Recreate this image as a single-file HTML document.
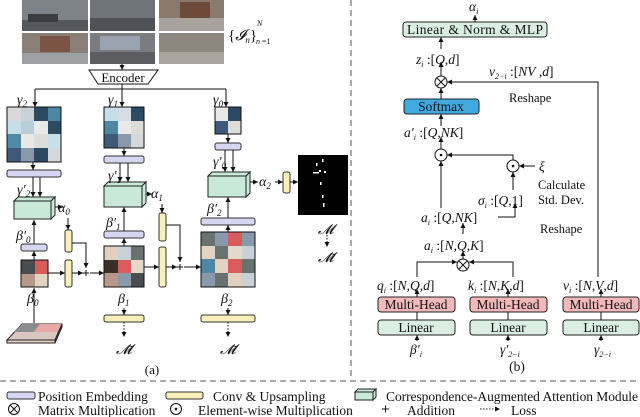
<!DOCTYPE html>
<html><head><meta charset="utf-8"><style>
html,body{margin:0;padding:0;background:#fff}
svg{display:block}
text{font-family:"Liberation Serif",serif;fill:#111}
.i{font-style:italic}
</style></head><body>
<svg width="640" height="417" viewBox="0 0 640 417" xmlns="http://www.w3.org/2000/svg">
<defs>
<marker id="a" markerWidth="6" markerHeight="6" refX="5" refY="3" orient="auto" markerUnits="userSpaceOnUse"><path d="M0,0.5 L5,3 L0,5.5z" fill="#111"/></marker>
</defs>
<g stroke="#111" stroke-width="1" fill="none">
<g stroke="none">
<rect x="22" y="0" width="66" height="31" fill="#7d8289"/><rect x="90" y="0" width="65" height="31" fill="#6f747a"/><rect x="159" y="0" width="65" height="31" fill="#8a7a6e"/>
<rect x="22" y="33" width="66" height="31" fill="#8a7f76"/><rect x="90" y="33" width="65" height="31" fill="#7a7c80"/><rect x="159" y="33" width="65" height="31" fill="#8d8780"/>
<rect x="22" y="20" width="66" height="11" fill="#55595e"/><rect x="90" y="18" width="65" height="13" fill="#4e5155"/><rect x="159" y="18" width="65" height="13" fill="#a8a39c"/>
<rect x="22" y="53" width="66" height="11" fill="#9da0a2"/><rect x="90" y="52" width="65" height="12" fill="#5b5d60"/><rect x="159" y="52" width="65" height="12" fill="#a9a59e"/>
<rect x="28" y="14" width="30" height="8" fill="#3a3c40"/><rect x="180" y="2" width="30" height="16" fill="#6e4a3a"/><rect x="40" y="36" width="30" height="16" fill="#7a5444"/><rect x="100" y="36" width="40" height="14" fill="#9aa4b0"/>
</g>
<line x1="122" y1="64" x2="122" y2="70" marker-end="url(#a)"/>
<path d="M89,70 L158,70 L148,84 L98,84z" fill="#fff"/>
<path d="M122,84 V89 M35,89 H226" />
<line x1="35" y1="89" x2="35" y2="107" marker-end="url(#a)"/>
<line x1="122" y1="89" x2="122" y2="107" marker-end="url(#a)"/>
<line x1="226" y1="89" x2="226" y2="107" marker-end="url(#a)"/>
</g>
<text x="123" y="82" font-size="13" text-anchor="middle">Encoder</text>
<text x="228" y="40" font-size="15">{<tspan class="i">𝓘</tspan><tspan font-size="9" dy="3" class="i">n</tspan><tspan dy="-3">}</tspan></text>
<text x="257" y="26" font-size="8" class="i">N</text><text x="256" y="44" font-size="8" class="i">n</text><text x="262" y="44" font-size="8">=1</text>

<g stroke="none">
<rect x="7" y="107" width="14" height="14" fill="#d8d8d8"/><rect x="21" y="107" width="13" height="14" fill="#c9d0d8"/><rect x="34" y="107" width="14" height="14" fill="#2e4a63"/><rect x="48" y="107" width="13" height="14" fill="#4d87a3"/>
<rect x="7" y="121" width="14" height="13" fill="#c4dde6"/><rect x="21" y="121" width="13" height="13" fill="#b8cdd8"/><rect x="34" y="121" width="14" height="13" fill="#e8eaea"/><rect x="48" y="121" width="13" height="13" fill="#2e4a63"/>
<rect x="7" y="134" width="14" height="14" fill="#4f8aa5"/><rect x="21" y="134" width="13" height="14" fill="#e8e8e5"/><rect x="34" y="134" width="14" height="14" fill="#dcdcd8"/><rect x="48" y="134" width="13" height="14" fill="#c7e0e8"/>
<rect x="7" y="148" width="14" height="14" fill="#3e5a78"/><rect x="21" y="148" width="13" height="14" fill="#8a98ab"/><rect x="34" y="148" width="14" height="14" fill="#2e4a63"/><rect x="48" y="148" width="13" height="14" fill="#d4d8dc"/>
<rect x="104" y="107" width="14" height="14" fill="#c4dde6"/><rect x="118" y="107" width="13" height="14" fill="#d4dce4"/><rect x="131" y="107" width="13" height="14" fill="#2e4a63"/>
<rect x="104" y="121" width="14" height="13" fill="#4d87a3"/><rect x="118" y="121" width="13" height="13" fill="#e8eaea"/><rect x="131" y="121" width="13" height="13" fill="#dcdcd8"/>
<rect x="104" y="134" width="14" height="14" fill="#3e5a78"/><rect x="118" y="134" width="13" height="14" fill="#8a98ab"/><rect x="131" y="134" width="13" height="14" fill="#d4d8dc"/>
<rect x="215" y="107" width="13" height="14" fill="#e8eaea"/><rect x="228" y="107" width="13" height="14" fill="#2e4a63"/>
<rect x="215" y="121" width="13" height="13" fill="#3e5a78"/><rect x="228" y="121" width="13" height="13" fill="#dcdcd8"/>
<rect x="21" y="260" width="14" height="14" fill="#4a4d50"/><rect x="35" y="260" width="13" height="14" fill="#d85c5c"/>
<rect x="21" y="274" width="14" height="13" fill="#b89888"/><rect x="35" y="274" width="13" height="13" fill="#e3d3c3"/>
<rect x="104" y="246" width="14" height="14" fill="#e0d0c0"/><rect x="118" y="246" width="13" height="14" fill="#c8d0d8"/><rect x="131" y="246" width="13" height="14" fill="#6a7270"/>
<rect x="104" y="260" width="14" height="13" fill="#3a2e28"/><rect x="118" y="260" width="13" height="13" fill="#d85c5c"/><rect x="131" y="260" width="13" height="13" fill="#e3d8cc"/>
<rect x="104" y="273" width="14" height="14" fill="#b89888"/><rect x="118" y="273" width="13" height="14" fill="#8a98ab"/><rect x="131" y="273" width="13" height="14" fill="#4a4d50"/>
<rect x="201" y="232" width="14" height="14" fill="#6a7270"/><rect x="215" y="232" width="13" height="14" fill="#8a98ab"/><rect x="228" y="232" width="14" height="14" fill="#d85c5c"/><rect x="242" y="232" width="13" height="14" fill="#8a98ab"/>
<rect x="201" y="246" width="14" height="13" fill="#e3d3c3"/><rect x="215" y="246" width="13" height="13" fill="#6a7270"/><rect x="228" y="246" width="14" height="13" fill="#e3d8cc"/><rect x="242" y="246" width="13" height="13" fill="#c8d0d8"/>
<rect x="201" y="259" width="14" height="14" fill="#4d87a3"/><rect x="215" y="259" width="13" height="14" fill="#e3d3c3"/><rect x="228" y="259" width="14" height="14" fill="#d85c5c"/><rect x="242" y="259" width="13" height="14" fill="#6a7270"/>
<rect x="201" y="273" width="14" height="14" fill="#8a98ab"/><rect x="215" y="273" width="13" height="14" fill="#6a7270"/><rect x="228" y="273" width="14" height="14" fill="#e0d0c0"/><rect x="242" y="273" width="13" height="14" fill="#c8d0d8"/>
</g>
<g stroke="#111" stroke-width="1" fill="none">
<rect x="7" y="107" width="54" height="55"/><rect x="104" y="107" width="40" height="41"/><rect x="215" y="107" width="26" height="27"/>
<rect x="21" y="260" width="27" height="27"/><rect x="104" y="246" width="40" height="41"/><rect x="201" y="232" width="54" height="55"/>
</g>
<g fill="#d6d6f2" stroke="#333" stroke-width="1">
<rect x="7" y="170" width="54" height="7" rx="2"/><rect x="104" y="156" width="40" height="7" rx="2"/><rect x="215" y="143" width="26" height="7" rx="2"/>
<rect x="21" y="244" width="26" height="7" rx="2"/><rect x="104" y="231" width="40" height="7" rx="2"/><rect x="201" y="218" width="54" height="7" rx="2"/>
</g>
<g fill="#f8f0b8" stroke="#333" stroke-width="1">
<rect x="65" y="230" width="7" height="22" rx="2"/><rect x="65" y="260" width="7" height="27" rx="2"/>
<rect x="159" y="213" width="7" height="28" rx="2"/><rect x="159" y="247" width="7" height="40" rx="2"/>
<rect x="283" y="172" width="7" height="21" rx="2"/>
<rect x="104" y="315" width="40" height="7" rx="2"/><rect x="201" y="315" width="54" height="7" rx="2"/>
</g>
<g stroke="#222" stroke-width="1" fill="#c8e8d8">
<path d="M14,201 L18,197 L55,197 L51,201z"/><path d="M51,201 L55,197 L55,215 L51,219z"/><rect x="14" y="201" width="37" height="18"/>
<path d="M104,186 L108,182 L146,182 L142,186z"/><path d="M142,186 L146,182 L146,203 L142,207z"/><rect x="104" y="186" width="38" height="21"/>
<path d="M208,176 L212,172 L250,172 L246,176z"/><path d="M246,176 L250,172 L250,193 L246,197z"/><rect x="208" y="176" width="38" height="21"/>
</g>
<g stroke="#222" stroke-width="1">
<path d="M22,324 L62,324 L55,340 L7,340z" fill="#d9c6c0"/>
<path d="M22,324 L40,324 L34,332 L14,332z" fill="#8a8c90" stroke="none"/>
<path d="M40,324 L62,324 L58,332 L34,332z" fill="#e8a8a8" stroke="none"/>
<path d="M7,340 L55,340 L55,343 L7,343z" fill="#e3d3c3"/>
<path d="M55,340 L62,324 L62,327 L55,343z" fill="#d85c5c"/>
</g>
<rect x="298" y="155" width="50" height="60" fill="#000"/>
<g fill="#fff"><rect x="322" y="159" width="1.5" height="3"/><rect x="316" y="163" width="1.5" height="3"/><rect x="319" y="170" width="2" height="2"/><rect x="313" y="172" width="6" height="1.5"/><rect x="324" y="171" width="2" height="2"/><rect x="320" y="182" width="1.5" height="3"/><rect x="322" y="195" width="1.5" height="3"/><rect x="323" y="203" width="1.5" height="4"/></g>
<g stroke="#111" stroke-width="1" fill="none">
<line x1="33" y1="162" x2="33" y2="170" marker-end="url(#a)"/>
<line x1="33" y1="177" x2="33" y2="197" marker-end="url(#a)"/><line x1="40" y1="177" x2="40" y2="197" marker-end="url(#a)"/>
<line x1="55" y1="207" x2="63" y2="207" marker-end="url(#a)"/>
<line x1="68" y1="218" x2="68" y2="230" marker-end="url(#a)"/>
<line x1="34" y1="244" x2="34" y2="220" marker-end="url(#a)"/>
<line x1="34" y1="260" x2="34" y2="251" marker-end="url(#a)"/>
<line x1="34" y1="323" x2="34" y2="288" marker-end="url(#a)"/>
<line x1="48" y1="273" x2="65" y2="273" marker-end="url(#a)"/>
<line x1="72" y1="273" x2="83" y2="273" marker-end="url(#a)"/>
<path d="M72,243 H86 V268" marker-end="url(#a)"/>
<line x1="90" y1="273" x2="104" y2="273" marker-end="url(#a)"/>
<line x1="124" y1="148" x2="124" y2="156" marker-end="url(#a)"/>
<line x1="120" y1="163" x2="120" y2="182" marker-end="url(#a)"/><line x1="128" y1="163" x2="128" y2="182" marker-end="url(#a)"/>
<line x1="146" y1="194" x2="152" y2="194" marker-end="url(#a)"/>
<line x1="162" y1="204" x2="162" y2="213" marker-end="url(#a)"/>
<line x1="124" y1="231" x2="124" y2="207" marker-end="url(#a)"/>
<line x1="124" y1="246" x2="124" y2="238" marker-end="url(#a)"/>
<line x1="144" y1="267" x2="159" y2="267" marker-end="url(#a)"/>
<line x1="166" y1="267" x2="177" y2="267" marker-end="url(#a)"/>
<path d="M166,225 H180 V262" marker-end="url(#a)"/>
<line x1="184" y1="267" x2="201" y2="267" marker-end="url(#a)"/>
<line x1="124" y1="308" x2="124" y2="315" marker-end="url(#a)"/>
<line x1="124" y1="322" x2="124" y2="337" stroke-dasharray="1.5,1.5" marker-end="url(#a)"/>
<line x1="228" y1="134" x2="228" y2="143" marker-end="url(#a)"/>
<line x1="225" y1="150" x2="225" y2="172" marker-end="url(#a)"/><line x1="233" y1="150" x2="233" y2="172" marker-end="url(#a)"/>
<line x1="250" y1="182" x2="258" y2="182" marker-end="url(#a)"/>
<line x1="275" y1="182" x2="283" y2="182" marker-end="url(#a)"/>
<line x1="290" y1="182" x2="298" y2="182" marker-end="url(#a)"/>
<line x1="228" y1="218" x2="228" y2="197" marker-end="url(#a)"/>
<line x1="228" y1="232" x2="228" y2="225" marker-end="url(#a)"/>
<line x1="228" y1="308" x2="228" y2="315" marker-end="url(#a)"/>
<line x1="228" y1="322" x2="228" y2="337" stroke-dasharray="1.5,1.5" marker-end="url(#a)"/>
<line x1="327" y1="232" x2="327" y2="247" stroke-dasharray="1.5,1.5" marker-end="url(#a)"/>
<path d="M83,273 h6 M86,270 v6 M177,267 h6 M180,264 v6"/>
</g>
<g font-size="14" class="i">
<text x="17" y="104" class="i">γ<tspan font-size="9" dy="3">2</tspan></text>
<text x="108" y="104" class="i">γ<tspan font-size="9" dy="3">1</tspan></text>
<text x="213" y="104" class="i">γ<tspan font-size="9" dy="3">0</tspan></text>
<text x="17" y="194" class="i">γ′<tspan font-size="9" dy="3">2</tspan></text>
<text x="108" y="180" class="i">γ′<tspan font-size="9" dy="3">1</tspan></text>
<text x="213" y="166" class="i">γ′<tspan font-size="9" dy="3">0</tspan></text>
<text x="58" y="212" class="i">α<tspan font-size="9" dy="3">0</tspan></text>
<text x="151" y="198" class="i">α<tspan font-size="9" dy="3">1</tspan></text>
<text x="259" y="186" class="i">α<tspan font-size="9" dy="3">2</tspan></text>
<text x="16" y="240" class="i">β′<tspan font-size="9" dy="3">0</tspan></text>
<text x="106" y="227" class="i">β′<tspan font-size="9" dy="3">1</tspan></text>
<text x="207" y="213" class="i">β′<tspan font-size="9" dy="3">2</tspan></text>
<text x="27" y="303" class="i">β<tspan font-size="9" dy="3">0</tspan></text>
<text x="118" y="303" class="i">β<tspan font-size="9" dy="3">1</tspan></text>
<text x="221" y="303" class="i">β<tspan font-size="9" dy="3">2</tspan></text>
<text x="318" y="234" class="i">𝓜</text>
<text x="116" y="354" class="i">𝓜̃</text>
<text x="220" y="354" class="i">𝓜̃</text>
<text x="318" y="262" class="i">𝓜̃</text>
</g>
<text x="152" y="374" font-size="13" text-anchor="middle">(a)</text>

<g stroke="#555" stroke-width="1" stroke-dasharray="6,4">
<line x1="351" y1="0" x2="351" y2="378"/>
<line x1="0" y1="381" x2="640" y2="381"/>
</g>

<g stroke="#222" stroke-width="1">
<rect x="403" y="22" width="144" height="15" rx="3" fill="#daeee2"/>
<rect x="404" y="99" width="75" height="15" rx="3" fill="#3fa9e0"/>
<rect x="378" y="297" width="77" height="15" rx="3" fill="#f3b8b8"/>
<rect x="470" y="297" width="77" height="15" rx="3" fill="#f3b8b8"/>
<rect x="563" y="297" width="76" height="15" rx="3" fill="#f3b8b8"/>
<rect x="378" y="320" width="77" height="15" rx="3" fill="#daeee2"/>
<rect x="470" y="320" width="77" height="15" rx="3" fill="#daeee2"/>
<rect x="563" y="320" width="76" height="15" rx="3" fill="#daeee2"/>
</g>
<g stroke="#111" stroke-width="1" fill="none">
<line x1="475" y1="22" x2="475" y2="15" marker-end="url(#a)"/>
<line x1="441" y1="49" x2="441" y2="37" marker-end="url(#a)"/>
<line x1="441" y1="76" x2="441" y2="62" marker-end="url(#a)"/>
<line x1="441" y1="99" x2="441" y2="88" marker-end="url(#a)"/>
<line x1="441" y1="126" x2="441" y2="114" marker-end="url(#a)"/>
<line x1="441" y1="149" x2="441" y2="137" marker-end="url(#a)"/>
<path d="M598,277 V82 H447" marker-end="url(#a)"/>
<circle cx="441" cy="82" r="6"/><path d="M437,78 l8,8 M445,78 l-8,8"/>
<circle cx="441" cy="155" r="6"/><circle cx="441" cy="155" r="0.8" fill="#111"/>
<circle cx="513" cy="166" r="6"/><circle cx="513" cy="166" r="0.8" fill="#111"/>
<path d="M513,160 V155 H447" marker-end="url(#a)"/>
<line x1="535" y1="166" x2="519" y2="166" marker-end="url(#a)"/>
<line x1="513" y1="190" x2="513" y2="172" marker-end="url(#a)"/>
<path d="M498,217 H515 V203" marker-end="url(#a)"/>
<line x1="441" y1="208" x2="441" y2="161" marker-end="url(#a)"/>
<line x1="463" y1="234" x2="463" y2="223" marker-end="url(#a)"/>
<line x1="463" y1="259" x2="463" y2="251" marker-end="url(#a)"/>
<circle cx="463" cy="265" r="6"/><path d="M459,261 l8,8 M467,261 l-8,8"/>
<path d="M417,277 V262 H457" marker-end="url(#a)"/>
<path d="M513,277 V262 H469" marker-end="url(#a)"/>
<line x1="417" y1="297" x2="417" y2="289" marker-end="url(#a)"/>
<line x1="508" y1="297" x2="508" y2="289" marker-end="url(#a)"/>
<line x1="601" y1="297" x2="601" y2="289" marker-end="url(#a)"/>
<path d="M417,312 V320 M508,312 V320 M601,312 V320"/>
<line x1="417" y1="341" x2="417" y2="335" marker-end="url(#a)"/>
<line x1="508" y1="341" x2="508" y2="335" marker-end="url(#a)"/>
<line x1="601" y1="341" x2="601" y2="335" marker-end="url(#a)"/>
</g>
<g font-size="13.5">
<text x="475" y="34" text-anchor="middle" textLength="136">Linear &amp; Norm &amp; MLP</text>
<text x="441" y="111" text-anchor="middle">Softmax</text>
<text x="416" y="309" text-anchor="middle">Multi-Head</text>
<text x="508" y="309" text-anchor="middle">Multi-Head</text>
<text x="601" y="309" text-anchor="middle">Multi-Head</text>
<text x="416" y="332" text-anchor="middle">Linear</text>
<text x="508" y="332" text-anchor="middle">Linear</text>
<text x="601" y="332" text-anchor="middle">Linear</text>
<text x="509" y="102" font-size="12.5">Reshape</text>
<text x="540" y="233" font-size="12.5">Reshape</text>
<text x="538" y="189" font-size="12.5">Calculate</text>
<text x="538" y="204" font-size="12.5">Std. Dev.</text>
<text x="469" y="11" class="i">α<tspan font-size="8" dy="3">i</tspan></text>
<text x="416" y="64"><tspan class="i">z</tspan><tspan font-size="8" dy="3" class="i">i</tspan><tspan dy="-3"> :[</tspan><tspan class="i">Q</tspan>,<tspan class="i">d</tspan>]</text>
<text x="489" y="76"><tspan class="i">v</tspan><tspan font-size="8" dy="3" class="i">2−i</tspan><tspan dy="-3"> :[</tspan><tspan class="i">NV</tspan> ,<tspan class="i">d</tspan>]</text>
<text x="404" y="137"><tspan class="i">a′</tspan><tspan font-size="8" dy="3" class="i">i</tspan><tspan dy="-3"> :[</tspan><tspan class="i">Q</tspan>,<tspan class="i">NK</tspan>]</text>
<text x="539" y="171" class="i">ξ</text>
<text x="478" y="205"><tspan class="i">σ</tspan><tspan font-size="8" dy="3" class="i">i</tspan><tspan dy="-3"> :[</tspan><tspan class="i">Q</tspan>,1]</text>
<text x="421" y="222"><tspan class="i">a</tspan><tspan font-size="8" dy="3" class="i">i</tspan><tspan dy="-3"> :[</tspan><tspan class="i">Q</tspan>,<tspan class="i">NK</tspan>]</text>
<text x="424" y="250"><tspan class="i">a</tspan><tspan font-size="8" dy="3" class="i">i</tspan><tspan dy="-3"> :[</tspan><tspan class="i">N</tspan>,<tspan class="i">Q</tspan>,<tspan class="i">K</tspan>]</text>
<text x="377" y="290"><tspan class="i">q</tspan><tspan font-size="8" dy="3" class="i">i</tspan><tspan dy="-3"> :[</tspan><tspan class="i">N</tspan>,<tspan class="i">Q</tspan>,<tspan class="i">d</tspan>]</text>
<text x="468" y="290"><tspan class="i">k</tspan><tspan font-size="8" dy="3" class="i">i</tspan><tspan dy="-3"> :[</tspan><tspan class="i">N</tspan>,<tspan class="i">K</tspan>,<tspan class="i">d</tspan>]</text>
<text x="563" y="290"><tspan class="i">v</tspan><tspan font-size="8" dy="3" class="i">i</tspan><tspan dy="-3"> :[</tspan><tspan class="i">N</tspan>,<tspan class="i">V</tspan>,<tspan class="i">d</tspan>]</text>
<text x="410" y="354" class="i">β′<tspan font-size="8" dy="3">i</tspan></text>
<text x="500" y="354" class="i">γ′<tspan font-size="8" dy="3">2−i</tspan></text>
<text x="594" y="354" class="i">γ<tspan font-size="8" dy="3">2−i</tspan></text>
<text x="517" y="371" text-anchor="middle">(b)</text>
</g>

<rect x="7" y="392" width="28" height="7" rx="2" fill="#d6d6f2" stroke="#333"/>
<rect x="166" y="392" width="37" height="7" rx="2" fill="#f8f0b8" stroke="#333"/>
<g stroke="#222" fill="#c8e8d8"><path d="M355,392 L358,389 L376,389 L373,392z"/><path d="M373,392 L376,389 L376,397 L373,400z"/><rect x="355" y="392" width="18" height="8"/></g>
<g stroke="#111" fill="none">
<circle cx="14" cy="409" r="5.5"/><path d="M10,405 l8,8 M18,405 l-8,8"/>
<circle cx="176" cy="409" r="5.5"/><circle cx="176" cy="409" r="0.8" fill="#111"/>
<path d="M382,409 h7 M385.5,405.5 v7"/>
<line x1="480" y1="409" x2="500" y2="409" stroke-dasharray="1.5,1.5" marker-end="url(#a)"/>
</g>
<g font-size="13.5">
<text x="38" y="401">Position Embedding</text>
<text x="213" y="401">Conv &amp; Upsampling</text>
<text x="386" y="401" textLength="252">Correspondence-Augmented Attention Module</text>
<text x="38" y="415">Matrix Multiplication</text>
<text x="198" y="415">Element-wise Multiplication</text>
<text x="407" y="415">Addition</text>
<text x="511" y="415">Loss</text>
</g>
</svg>
</body></html>
